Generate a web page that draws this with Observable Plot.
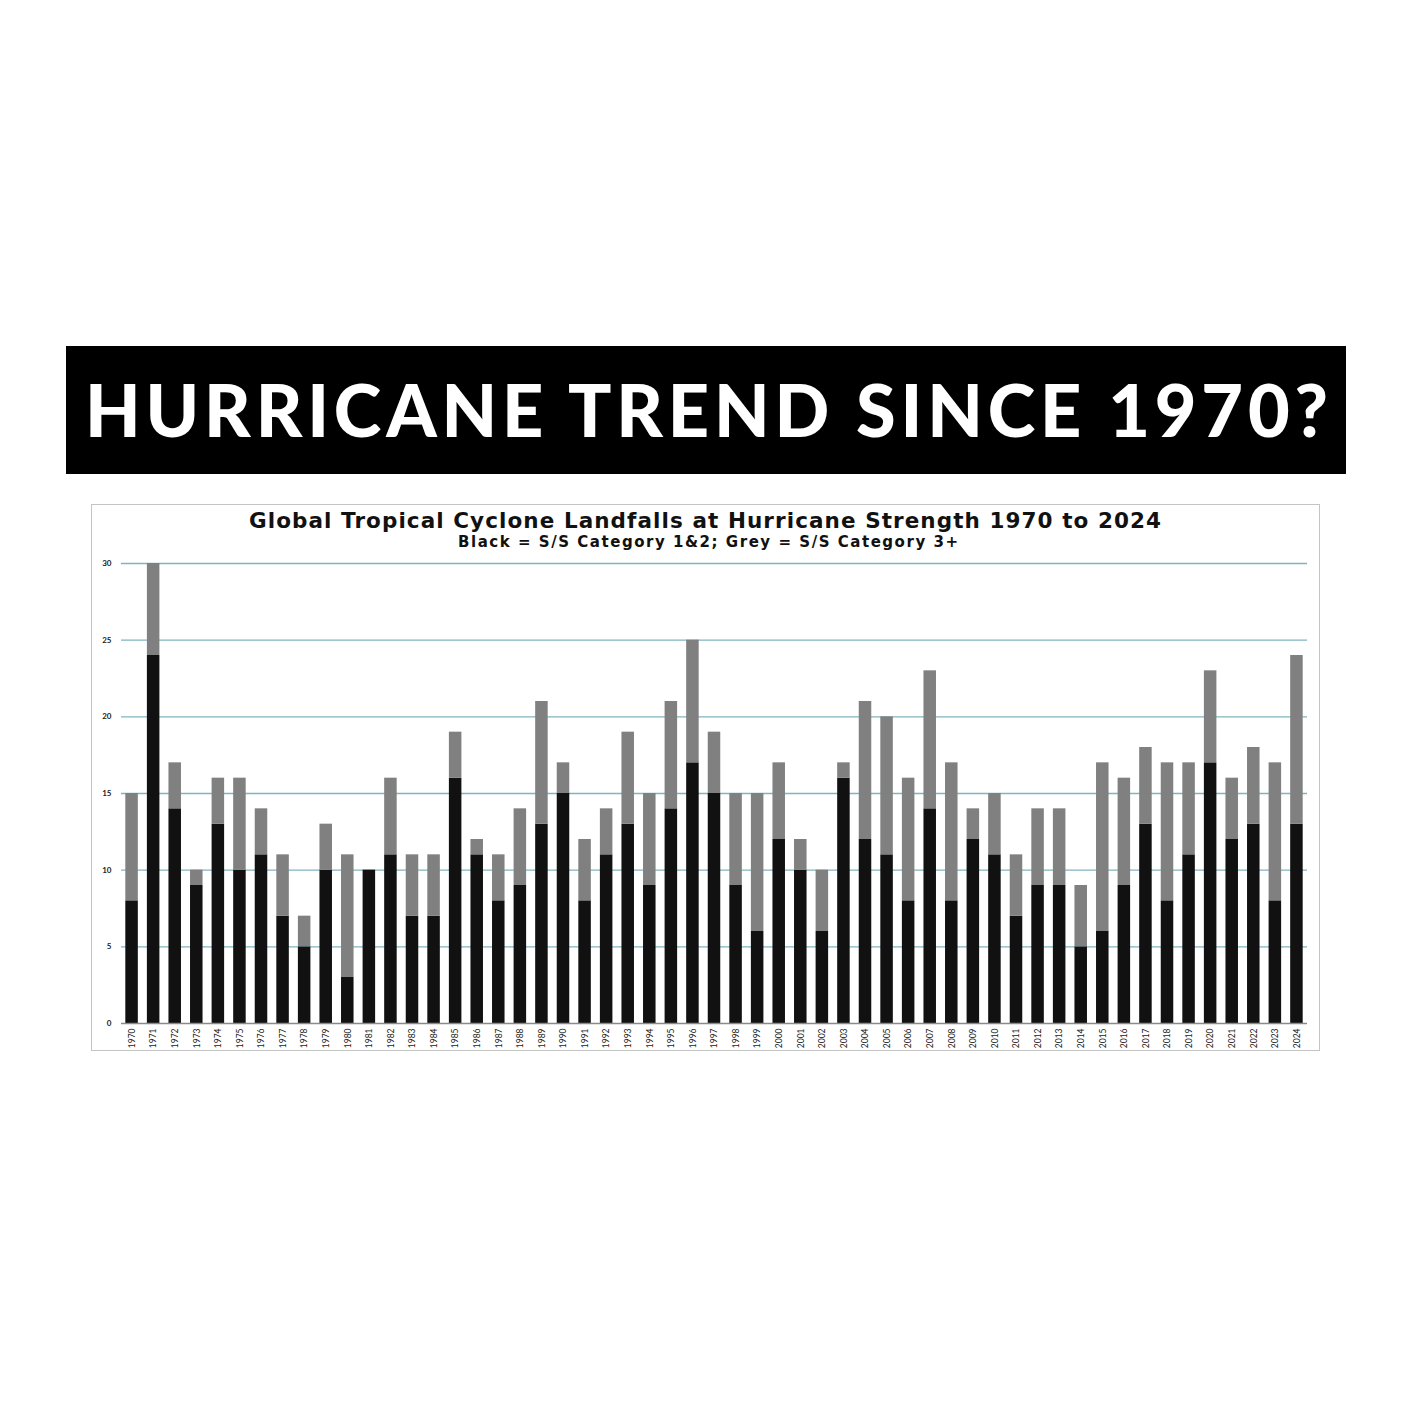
<!DOCTYPE html>
<html>
<head>
<meta charset="utf-8">
<script src="https://cdn.jsdelivr.net/npm/d3@7"></script>
<script src="https://cdn.jsdelivr.net/npm/@observablehq/plot@0.6"></script>
<style>
  html, body { margin: 0; padding: 0; background: #fff; }
  body { width: 1411px; height: 1411px; position: relative; overflow: hidden; font-family: Lato, "Open Sans", sans-serif; }
  #banner { position: absolute; left: 66px; top: 346px; width: 1280px; height: 128px; background: #000; }
  #bannerText { position: absolute; left: 85px; top: 364px; color: #fff; font-family: Lato, sans-serif; font-weight: 900; font-size: 72px; line-height: 90px; white-space: nowrap; }
  #box { position: absolute; left: 91px; top: 504px; width: 1227px; height: 545px; border: 1px solid #c4c4c4; background: #fff; }
  .t { position: absolute; white-space: nowrap; color: #111; font-family: "DejaVu Sans", sans-serif; font-weight: bold; }
  #title { font-size: 21.5px; top: 508px; }
  #subtitle { font-size: 15px; top: 533px; }
  #chart { position: absolute; left: 92px; top: 555px; }
</style>
</head>
<body>
<div id="banner"></div>
<div id="bannerText">HURRICANE TREND SINCE 1970?</div>
<div id="box"></div>
<div class="t" id="title">Global Tropical Cyclone Landfalls at Hurricane Strength 1970 to 2024</div>
<div class="t" id="subtitle">Black = S/S Category 1&amp;2; Grey = S/S Category 3+</div>
<div id="chart"></div>
<script>
const years = ["1970","1971","1972","1973","1974","1975","1976","1977","1978","1979",
  "1980","1981","1982","1983","1984","1985","1986","1987","1988","1989",
  "1990","1991","1992","1993","1994","1995","1996","1997","1998","1999",
  "2000","2001","2002","2003","2004","2005","2006","2007","2008","2009",
  "2010","2011","2012","2013","2014","2015","2016","2017","2018","2019",
  "2020","2021","2022","2023","2024"];
// Black: Saffir-Simpson Category 1 & 2 landfalls
const cat12 = [8,24,14,9,13,10,11,7,5,10,
  3,10,11,7,7,16,11,8,9,13,
  15,8,11,13,9,14,17,15,9,6,
  12,10,6,16,12,11,8,14,8,12,
  11,7,9,9,5,6,9,13,8,11,
  17,12,13,8,13];
// Grey: Saffir-Simpson Category 3+ landfalls
const cat3plus = [7,6,3,1,3,6,3,4,2,3,
  8,0,5,4,4,3,1,3,5,8,
  2,4,3,6,6,7,8,4,6,9,
  5,2,4,1,9,9,8,9,9,2,
  4,4,5,5,4,11,7,5,9,6,
  6,4,5,9,11];
const seriesNames = ["Category 1&2", "Category 3+"];
const yTicks = [0,5,10,15,20,25,30];

const data = [];
years.forEach((y, i) => {
  data.push({year: y, value: cat12[i], cat: seriesNames[0]});
  data.push({year: y, value: cat3plus[i], cat: seriesNames[1]});
});

const chart = Plot.plot({
  width: 1228,
  height: 495,
  marginLeft: 29,
  marginRight: 13,
  marginTop: 8,
  marginBottom: 27,
  style: { fontFamily: "Lato, sans-serif", background: "transparent" },
  x: { domain: years, paddingInner: 0.42, paddingOuter: 0.2, label: null },
  y: { domain: [0, 30], ticks: yTicks, label: null },
  color: { domain: seriesNames, range: ["#111111", "#808080"] },
  marks: [
    Plot.ruleY(yTicks.filter(d => d > 0), { stroke: "#7fb4c0", strokeWidth: 1.3 }),
    Plot.barY(data, { x: "year", y: "value", fill: "cat" }),
    Plot.ruleY([0], { stroke: "#8a8a8a", strokeWidth: 1.6 }),
    Plot.axisY({ ticks: yTicks, tickSize: 0, tickPadding: 10, fontSize: 8, fontWeight: "bold", fill: "#222" }),
    Plot.axisX({ tickSize: 0, tickPadding: 5, tickRotate: -90, fontSize: 8.5, fill: "#222" })
  ]
});
document.getElementById("chart").appendChild(chart);

// fit text widths to the reference layout
function fit(id, left, right) {
  const el = document.getElementById(id);
  const target = right - left;
  el.style.letterSpacing = "0px";
  const w = el.getBoundingClientRect().width;
  const n = el.textContent.length;
  el.style.letterSpacing = ((target - w) / (n - 1)) + "px";
  el.style.left = left + "px";
}
fit("bannerText", 85, 1328);
fit("title", 249, 1161);
fit("subtitle", 458, 958);
</script>
</body>
</html>
